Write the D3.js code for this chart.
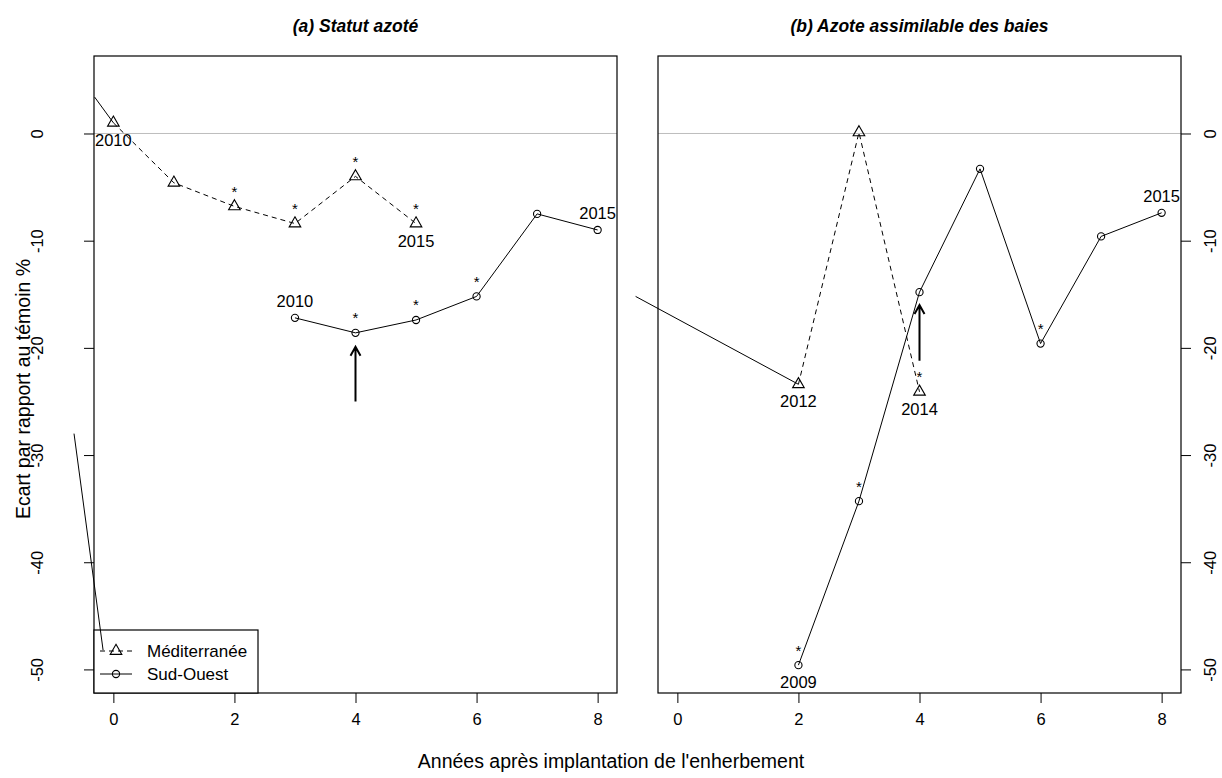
<!DOCTYPE html>
<html>
<head>
<meta charset="utf-8">
<script src="https://cdn.jsdelivr.net/npm/d3@7"></script>
<style>
  body { margin: 0; background: #fff; }
  text { font-family: "Liberation Sans", Arial, sans-serif; fill: #000; }
</style>
</head>
<body>
<script>
// (a) Statut azoté
const medA_x = [0, 1, 2, 3, 4, 5];
const medA_y = [1.0, -4.6, -6.8, -8.4, -4.0, -8.4];
const medA_sig = [0, 0, 1, 1, 1, 1];
const soA_x = [3, 4, 5, 6, 7, 8];
const soA_y = [-17.2, -18.6, -17.4, -15.2, -7.5, -9.0];
const soA_sig = [0, 1, 1, 1, 0, 0];

// (b) Azote assimilable des baies
const medB_x = [2, 3, 4];
const medB_y = [-23.4, 0.1, -24.1];
const medB_sig = [0, 0, 1];
const soB_x = [2, 3, 4, 5, 6, 7, 8];
const soB_y = [-49.6, -34.3, -14.8, -3.3, -19.6, -9.6, -7.4];
const soB_sig = [1, 1, 0, 0, 1, 0, 0];

// étiquettes d'années : [x, y, texte, dessus(1)/dessous(-1)]
const yearsA = [[0, 1.0, "2010", -1], [5, -8.4, "2015", -1], [3, -17.2, "2010", 1], [8, -9.0, "2015", 1]];
const yearsB = [[2, -23.4, "2012", -1], [4, -24.1, "2014", -1], [2, -49.6, "2009", -1], [8, -7.4, "2015", 1]];

// flèches [x, y départ, y arrivée]
const arrowA = [4, -25.0, -19.9];
const arrowB = [4, -21.2, -16.0];

// traits parasites
const strayA1 = [[-0.31, 3.4], [0, 1.0]];
const strayA2 = [[-0.65, -28.0], [-0.17, -48.2]];
const strayB = [[-0.69, -15.2], [2, -23.4]];

const xTicks = [0, 2, 4, 6, 8];
const yTicks = [0, -10, -20, -30, -40, -50];

const W = 1222, H = 778;
const plotTop = 56, plotBottom = 693;
const fs = 16.5;

const svg = d3.select("body").append("svg")
  .attr("width", W).attr("height", H);

const y = d3.scaleLinear().domain([-52.2, 7.23]).range([plotBottom, plotTop]);

function panel(x0, x1, title, side) {
  const x = d3.scaleLinear().domain([-0.32, 8.32]).range([x0, x1]);
  const g = svg.append("g");

  // ligne zéro
  g.append("line")
    .attr("x1", x0).attr("x2", x1)
    .attr("y1", y(0)).attr("y2", y(0))
    .attr("stroke", "#bebebe").attr("stroke-width", 1);

  g.append("rect")
    .attr("x", x0).attr("y", plotTop)
    .attr("width", x1 - x0).attr("height", plotBottom - plotTop)
    .attr("fill", "none").attr("stroke", "#000").attr("stroke-width", 1.2);

  const xa = g.append("g")
    .attr("transform", `translate(0, ${plotBottom})`)
    .call(d3.axisBottom(x).tickValues(xTicks).tickSize(10).tickPadding(10).tickSizeOuter(0));
  xa.select(".domain").remove();
  xa.selectAll("text").style("font-size", fs + "px").style("font-family", "Liberation Sans, Arial, sans-serif");

  const ya = g.append("g")
    .attr("transform", `translate(${side === "left" ? x0 : x1}, 0)`)
    .call((side === "left" ? d3.axisLeft(y) : d3.axisRight(y)).tickValues(yTicks).tickSize(10));
  ya.select(".domain").remove();
  ya.selectAll("text").remove();
  ya.selectAll(".tick").append("text")
    .attr("transform", `translate(${side === "left" ? -57 : 29}, 0) rotate(-90)`)
    .attr("text-anchor", "middle")
    .attr("dominant-baseline", "central")
    .style("font-size", fs + "px")
    .text(d => String(d));

  g.append("text")
    .attr("x", (x0 + x1) / 2).attr("y", 32)
    .attr("text-anchor", "middle")
    .style("font-size", "17.5px").style("font-weight", "bold").style("font-style", "italic")
    .text(title);

  return { g, x };
}

function series(p, xs, ys, sig, shape, dashed) {
  const pts = xs.map((d, i) => [d, ys[i], sig[i]]);
  const line = d3.line().x(d => p.x(d[0])).y(d => y(d[1]));
  p.g.append("path")
    .attr("d", line(pts))
    .attr("fill", "none").attr("stroke", "#000").attr("stroke-width", 1)
    .attr("stroke-dasharray", dashed ? "5,4" : null);
  drawSymbols(p.g, pts.map(d => [p.x(d[0]), y(d[1])]), shape);
  p.g.selectAll(null).data(pts.filter(d => d[2])).enter().append("text")
    .attr("x", d => p.x(d[0])).attr("y", d => y(d[1]) - 9.5)
    .attr("text-anchor", "middle")
    .style("font-size", "15px")
    .text("*");
}

function drawSymbols(g, pts, shape) {
  if (shape === "tri") {
    const r = 6.7;
    g.selectAll(null).data(pts).enter().append("path")
      .attr("d", d => `M${d[0]},${d[1] - r}L${d[0] + r * 0.866},${d[1] + r / 2}L${d[0] - r * 0.866},${d[1] + r / 2}Z`)
      .attr("fill", "none").attr("stroke", "#000").attr("stroke-width", 1.1);
  } else {
    g.selectAll(null).data(pts).enter().append("circle")
      .attr("cx", d => d[0]).attr("cy", d => d[1]).attr("r", 3.6)
      .attr("fill", "none").attr("stroke", "#000").attr("stroke-width", 1.1);
  }
}

function years(p, list) {
  p.g.selectAll(null).data(list).enter().append("text")
    .attr("x", d => p.x(d[0]))
    .attr("y", d => y(d[1]) - d[3] * 17)
    .attr("text-anchor", "middle")
    .attr("dominant-baseline", "central")
    .style("font-size", fs + "px")
    .text(d => d[2]);
}

function arrow(p, a) {
  const xx = p.x(a[0]), ya = y(a[1]), yb = y(a[2]);
  p.g.append("path")
    .attr("d", `M${xx},${ya}L${xx},${yb}M${xx - 5},${yb + 9}L${xx},${yb}L${xx + 5},${yb + 9}`)
    .attr("fill", "none").attr("stroke", "#000").attr("stroke-width", 2);
}

function stray(g, x, seg) {
  g.append("line")
    .attr("x1", x(seg[0][0])).attr("y1", y(seg[0][1]))
    .attr("x2", x(seg[1][0])).attr("y2", y(seg[1][1]))
    .attr("stroke", "#000").attr("stroke-width", 1);
}

// panneau (a)
const pA = panel(94, 617, "(a) Statut azoté", "left");
series(pA, medA_x, medA_y, medA_sig, "tri", true);
series(pA, soA_x, soA_y, soA_sig, "circ", false);
years(pA, yearsA);
arrow(pA, arrowA);
stray(pA.g, pA.x, strayA1);

// légende
const lg = svg.append("g");
lg.append("rect")
  .attr("x", 94).attr("y", 630).attr("width", 164).attr("height", plotBottom - 630)
  .attr("fill", "#fff").attr("stroke", "#000").attr("stroke-width", 1.2);
[["Méditerranée", "tri", true, 651], ["Sud-Ouest", "circ", false, 674]].forEach(e => {
  lg.append("line")
    .attr("x1", 100).attr("x2", 132).attr("y1", e[3]).attr("y2", e[3])
    .attr("stroke", "#000").attr("stroke-dasharray", e[2] ? "5,4" : null);
  drawSymbols(lg, [[116, e[3]]], e[1]);
  lg.append("text")
    .attr("x", 147).attr("y", e[3])
    .attr("dominant-baseline", "central")
    .style("font-size", "17px")
    .text(e[0]);
});
stray(lg, pA.x, strayA2);

// panneau (b)
const pB = panel(658, 1181, "(b) Azote assimilable des baies", "right");
series(pB, medB_x, medB_y, medB_sig, "tri", true);
series(pB, soB_x, soB_y, soB_sig, "circ", false);
years(pB, yearsB);
arrow(pB, arrowB);
stray(pB.g, pB.x, strayB);

// titres des axes
svg.append("text")
  .attr("x", W / 2).attr("y", 761)
  .attr("text-anchor", "middle").attr("dominant-baseline", "central")
  .style("font-size", "19.5px")
  .text("Années après implantation de l'enherbement");

svg.append("text")
  .attr("transform", `translate(23, ${H / 2}) rotate(-90)`)
  .attr("text-anchor", "middle").attr("dominant-baseline", "central")
  .style("font-size", "19.5px")
  .text("Ecart par rapport au témoin %");
</script>
</body>
</html>
